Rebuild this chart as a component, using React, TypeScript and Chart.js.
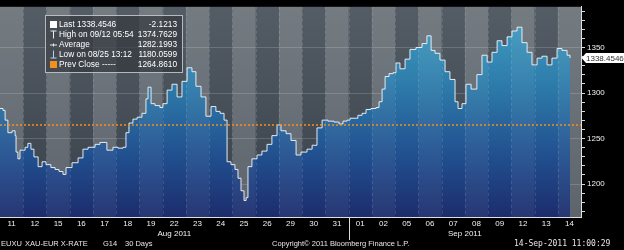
import React, { useEffect, useRef } from 'react';
import { Chart, registerables } from 'chart.js';

Chart.register(...registerables);

// ---- data ----
const dayLabels = ['11', '12', '15', '16', '17', '18', '19', '22', '23', '24', '25', '26', '29', '30', '31', '01', '02', '05', '06', '07', '08', '09', '12', '13', '14'];
const monthLabels = ['Aug 2011', 'Sep 2011'];
const monthFirstDay = [0, 15];

// time in trading days since start of window (11 Aug)
const times = [
  0, 0.13, 0.22, 0.34, 0.52, 0.65, 0.69, 0.77, 0.86, 1.08,
  1.2, 1.33, 1.46, 1.64, 1.81, 1.98, 2.19, 2.37, 2.54, 2.71,
  2.84, 3.1, 3.36, 3.57, 3.79, 4.09, 4.3, 4.6, 4.86, 5.08,
  5.29, 5.42, 5.55, 5.72, 5.9, 6.11, 6.28, 6.37, 6.5, 6.67,
  6.88, 7.01, 7.19, 7.4, 7.62, 7.83, 8.05, 8.26, 8.43, 8.65,
  8.86, 9.08, 9.29, 9.47, 9.64, 9.77, 9.94, 10.11, 10.24, 10.37,
  10.5, 10.59, 10.67, 10.84, 11.06, 11.27, 11.49, 11.7, 11.92, 12.09,
  12.31, 12.52, 12.74, 12.95, 13.21, 13.43, 13.64, 13.86, 14.11, 14.37,
  14.59, 14.76, 14.93, 15.06, 15.28, 15.4, 15.58, 15.75, 15.96, 16.18,
  16.31, 16.44, 16.57, 16.74, 16.91, 17.04, 17.21, 17.43, 17.64, 17.9,
  18.16, 18.37, 18.55, 18.72, 18.93, 19.15, 19.36, 19.58, 19.71, 19.88,
  20.05, 20.27, 20.52, 20.74, 20.96, 21.17, 21.39, 21.6, 21.82, 22.03,
  22.25, 22.46, 22.68, 22.89, 23.11, 23.32, 23.54, 23.75, 23.97, 24.18,
  24.4, 24.53,
];
const closes = [
  1283.0, 1280.9, 1270.2, 1256.4, 1258.5, 1253.2, 1235.1, 1227.7, 1237.2, 1240.4,
  1244.7, 1238.3, 1229.8, 1219.1, 1224.5, 1221.3, 1218.1, 1216.0, 1213.8, 1210.6,
  1218.1, 1223.4, 1228.7, 1238.3, 1240.4, 1243.6, 1245.7, 1237.2, 1240.4, 1239.4,
  1240.4, 1256.4, 1267.0, 1271.3, 1273.4, 1277.7, 1293.6, 1306.4, 1288.3, 1286.2,
  1284.0, 1288.3, 1303.2, 1309.6, 1295.7, 1312.8, 1327.7, 1323.4, 1307.4, 1295.7,
  1274.5, 1285.1, 1279.8, 1277.7, 1270.2, 1224.5, 1221.3, 1216.0, 1206.4, 1192.6,
  1181.9, 1185.1, 1219.1, 1227.7, 1231.9, 1236.2, 1243.6, 1253.2, 1264.9, 1258.5,
  1255.3, 1247.9, 1231.9, 1235.1, 1238.3, 1242.6, 1261.7, 1270.2, 1269.1, 1268.1,
  1266.0, 1269.1, 1270.2, 1272.3, 1272.3, 1275.5, 1277.7, 1281.9, 1283.0, 1284.0,
  1290.4, 1304.3, 1318.1, 1321.3, 1322.3, 1333.0, 1326.6, 1337.2, 1347.9, 1350.0,
  1354.3, 1362.8, 1346.8, 1343.6, 1336.2, 1323.4, 1314.9, 1290.4, 1283.0, 1288.3,
  1309.6, 1304.3, 1320.2, 1341.5, 1334.0, 1344.7, 1357.4, 1352.1, 1361.7, 1368.1,
  1372.3, 1355.3, 1344.7, 1330.9, 1338.3, 1340.4, 1330.9, 1338.3, 1348.9, 1346.8,
  1341.5, 1338.45,
];
const prevClose = 1264.861;
const lastPrice = 1338.4546;
const lastPriceText = '1338.4546';
const yMin = 1163.8;
const yMax = 1394.7;
const yMajorStep = 50;
const yMinorStep = 10;

const legendRows = [
  { icon: 'last', label: 'Last 1338.4546', value: '-2.1213' },
  { icon: 'high', label: 'High on 09/12 05:54', value: '1374.7629' },
  { icon: 'avg', label: 'Average', value: '1282.1993' },
  { icon: 'low', label: 'Low on 08/25 13:12', value: '1180.0599' },
  { icon: 'prev', label: 'Prev Close -----', value: '1264.8610' },
];
const footerParts = [
  { text: 'EUXU', x: 1 },
  { text: 'XAU-EUR X-RATE', x: 25 },
  { text: 'G14', x: 103 },
  { text: '30 Days', x: 125 },
  { text: 'Copyright\u00A9 2011 Bloomberg Finance L.P.', x: 272 },
];
const footerTime = '14-Sep-2011 11:00:29';

const FONT = 'Liberation Sans, Arial, sans-serif';

const bbPlugin = {
  id: 'bbDecor',
  beforeDraw(chart: any) {
    const { ctx, chartArea: a, width, height } = chart;
    const xs = chart.scales.x;
    ctx.save();
    ctx.fillStyle = '#000';
    ctx.fillRect(0, 0, width, height);
    const g = ctx.createLinearGradient(0, a.top, 0, a.bottom);
    g.addColorStop(0, 'rgb(84,93,101)');
    g.addColorStop(1, 'rgb(56,64,74)');
    ctx.fillStyle = g;
    ctx.fillRect(a.left, a.top, a.right - a.left, a.bottom - a.top);
    ctx.fillStyle = 'rgba(255,255,255,0.15)';
    for (let i = 0; i < dayLabels.length; i += 2) {
      const x0 = xs.getPixelForValue(i);
      const x1 = xs.getPixelForValue(i + 1);
      ctx.fillRect(x0, a.top, x1 - x0, a.bottom - a.top);
    }
    ctx.restore();
  },
  afterDatasetsDraw(chart: any) {
    const { ctx, chartArea: a } = chart;
    const xs = chart.scales.x;
    const ys = chart.scales.y;
    ctx.save();
    ctx.beginPath();
    ctx.rect(a.left, a.top, a.right - a.left, a.bottom - a.top);
    ctx.clip();
    ctx.fillStyle = 'rgba(255,255,255,0.05)';
    for (let i = 0; i < dayLabels.length; i += 2) {
      const x0 = xs.getPixelForValue(i);
      const x1 = xs.getPixelForValue(i + 1);
      ctx.fillRect(x0, a.top, x1 - x0, a.bottom - a.top);
    }
    ctx.strokeStyle = 'rgba(255,255,255,0.13)';
    ctx.lineWidth = 1;
    ctx.setLineDash([3, 3]);
    for (let i = 1; i < dayLabels.length; i++) {
      const x = Math.round(xs.getPixelForValue(i)) + 0.5;
      ctx.beginPath();
      ctx.moveTo(x, a.top);
      ctx.lineTo(x, a.bottom);
      ctx.stroke();
    }
    // prev close
    const py = ys.getPixelForValue(prevClose);
    ctx.strokeStyle = '#f5901e';
    ctx.lineWidth = 1.5;
    ctx.setLineDash([2, 2]);
    ctx.beginPath();
    ctx.moveTo(a.left, py);
    ctx.lineTo(a.right, py);
    ctx.stroke();
    ctx.restore();
  },
  afterDraw(chart: any) {
    const { ctx, chartArea: a } = chart;
    const xs = chart.scales.x;
    const ys = chart.scales.y;
    ctx.save();
    // month separator
    const mx = Math.round(xs.getPixelForValue(monthFirstDay[1])) + 0.5;
    ctx.strokeStyle = '#ddd';
    ctx.lineWidth = 1;
    ctx.beginPath();
    ctx.moveTo(mx, a.bottom);
    ctx.lineTo(mx, a.bottom + 23);
    ctx.stroke();

    // legend box
    const bx = 45.5, by = 15.5, bw = 137, bh = 57;
    ctx.fillStyle = 'rgba(52,57,62,0.72)';
    ctx.fillRect(bx, by, bw, bh);
    ctx.strokeStyle = 'rgba(200,205,210,0.85)';
    ctx.strokeRect(bx, by, bw, bh);
    ctx.font = `8.3px ${FONT}`;
    ctx.textBaseline = 'middle';
    legendRows.forEach((r, i) => {
      const cy = 24.5 + i * 10;
      const ix = 53;
      ctx.lineWidth = 1;
      if (r.icon === 'last') {
        ctx.fillStyle = '#fff';
        ctx.fillRect(ix - 3, cy - 3.5, 7, 7);
      } else if (r.icon === 'prev') {
        ctx.fillStyle = '#f5901e';
        ctx.fillRect(ix - 3, cy - 3.5, 7, 7);
      } else if (r.icon === 'high') {
        ctx.strokeStyle = '#e8eef5';
        ctx.beginPath();
        ctx.moveTo(ix - 2.5, cy - 3.5); ctx.lineTo(ix + 3.5, cy - 3.5);
        ctx.moveTo(ix + 0.5, cy - 3.5); ctx.lineTo(ix + 0.5, cy + 4);
        ctx.stroke();
      } else if (r.icon === 'low') {
        ctx.strokeStyle = '#a9d4f5';
        ctx.beginPath();
        ctx.moveTo(ix + 0.5, cy - 4); ctx.lineTo(ix + 0.5, cy + 3.5);
        ctx.moveTo(ix - 2.5, cy + 3.5); ctx.lineTo(ix + 3.5, cy + 3.5);
        ctx.stroke();
      } else if (r.icon === 'avg') {
        ctx.strokeStyle = '#e8eef5';
        ctx.beginPath();
        ctx.moveTo(ix - 3, cy + 0.5); ctx.lineTo(ix + 4, cy + 0.5);
        ctx.moveTo(ix + 0.5, cy - 1); ctx.lineTo(ix + 0.5, cy + 2);
        ctx.stroke();
      }
      ctx.fillStyle = '#fff';
      ctx.textAlign = 'left';
      ctx.fillText(r.label, 59, cy);
      ctx.textAlign = 'right';
      ctx.fillText(r.value, 177, cy);
    });

    // last price tag
    const ly = Math.round(ys.getPixelForValue(lastPrice));
    ctx.fillStyle = '#fff';
    ctx.beginPath();
    ctx.moveTo(a.right + 0.5, ly);
    ctx.lineTo(a.right + 5, ly - 5);
    ctx.lineTo(chart.width, ly - 5);
    ctx.lineTo(chart.width, ly + 5);
    ctx.lineTo(a.right + 5, ly + 5);
    ctx.closePath();
    ctx.fill();
    ctx.fillStyle = '#333';
    ctx.font = `8px ${FONT}`;
    ctx.textAlign = 'left';
    ctx.textBaseline = 'middle';
    ctx.fillText(lastPriceText, a.right + 5, ly + 0.5);

    // footer
    ctx.fillStyle = '#e6e6e6';
    ctx.font = `7.5px ${FONT}`;
    ctx.textBaseline = 'middle';
    ctx.textAlign = 'left';
    const fy = chart.height - 6.5;
    footerParts.forEach((p) => ctx.fillText(p.text, p.x, fy));
    ctx.font = `8px DejaVu Sans Mono, monospace`;
    ctx.fillText(footerTime, 514, fy);
    ctx.restore();
  },
};

export default function App() {
  const ref = useRef<HTMLCanvasElement | null>(null);
  useEffect(() => {
    if (!ref.current) return;
    const chart = new Chart(ref.current, {
      type: 'line',
      data: {
        datasets: [
          {
            data: times.map((t, i) => ({ x: t, y: closes[i] })),
            borderColor: 'rgba(235,242,250,0.95)',
            borderWidth: 1,
            pointRadius: 0,
            stepped: true,
            fill: 'start',
            backgroundColor: (c: any) => {
              const area = c.chart.chartArea;
              if (!area) return 'rgba(40,110,165,1)';
              const g = c.chart.ctx.createLinearGradient(0, area.top, 0, area.bottom);
              g.addColorStop(0, 'rgb(66,162,196)');
              g.addColorStop(0.4, 'rgb(44,120,168)');
              g.addColorStop(0.72, 'rgb(33,78,142)');
              g.addColorStop(1, 'rgb(28,44,108)');
              return g;
            },
          },
        ],
      },
      plugins: [bbPlugin],
      options: {
        responsive: false,
        animation: false,
        events: [],
        layout: { padding: { left: 0, right: 0, top: 0, bottom: 10 } },
        plugins: { legend: { display: false }, tooltip: { enabled: false } },
        scales: {
          x: {
            type: 'linear',
            position: 'bottom',
            weight: 0,
            min: 0,
            max: dayLabels.length,
            afterBuildTicks: (s: any) => {
              s.ticks = dayLabels.map((_, i) => ({ value: i + 0.5 }));
            },
            afterFit: (s: any) => { s.height = 11; },
            ticks: {
              autoSkip: false,
              maxRotation: 0,
              padding: 2,
              color: '#f0f0f0',
              font: { family: FONT, size: 8 },
              callback: (_v: any, i: number) => dayLabels[i],
            },
            grid: { display: false, drawTicks: false, tickLength: 0 },
            border: { display: true, color: '#e0e0e0', width: 1 },
          },
          x2: {
            type: 'linear',
            position: 'bottom',
            weight: 1,
            min: 0,
            max: dayLabels.length,
            afterBuildTicks: (s: any) => {
              s.ticks = monthFirstDay.map((start, i) => {
                const end = i + 1 < monthFirstDay.length ? monthFirstDay[i + 1] : dayLabels.length;
                return { value: (start + end) / 2 };
              });
            },
            afterFit: (s: any) => { s.height = 12; },
            ticks: {
              autoSkip: false,
              maxRotation: 0,
              padding: 1,
              color: '#f0f0f0',
              font: { family: FONT, size: 8 },
              callback: (_v: any, i: number) => monthLabels[i],
            },
            grid: { display: false, drawTicks: false, tickLength: 0 },
            border: { display: false },
          },
          y: {
            type: 'linear',
            position: 'right',
            min: yMin,
            max: yMax,
            z: 1,
            afterBuildTicks: (s: any) => {
              const t = [];
              for (let v = Math.ceil(yMin / yMinorStep) * yMinorStep; v <= yMax; v += yMinorStep) t.push({ value: v });
              s.ticks = t;
            },
            afterFit: (s: any) => { s.width = 43; },
            ticks: {
              autoSkip: false,
              padding: 2,
              color: '#f0f0f0',
              font: { family: FONT, size: 8 },
              callback: (v: any) => (v % yMajorStep === 0 ? String(v) : ''),
            },
            grid: {
              drawOnChartArea: true,
              tickLength: 4,
              color: (c: any) => (c.tick && c.tick.value % yMajorStep === 0 ? 'rgba(255,255,255,0.16)' : 'rgba(0,0,0,0)'),
              tickColor: '#d8d8d8',
            },
            border: { display: true, color: '#e0e0e0', width: 1 },
          },
        },
      } as any,
    });
    return () => chart.destroy();
  }, []);
  return (
    <div style={{ position: 'absolute', left: 0, top: 0, width: 624, height: 250, background: '#000' }}>
      <canvas ref={ref} width={624} height={250} style={{ display: 'block', width: 624, height: 250 }} />
    </div>
  );
}
